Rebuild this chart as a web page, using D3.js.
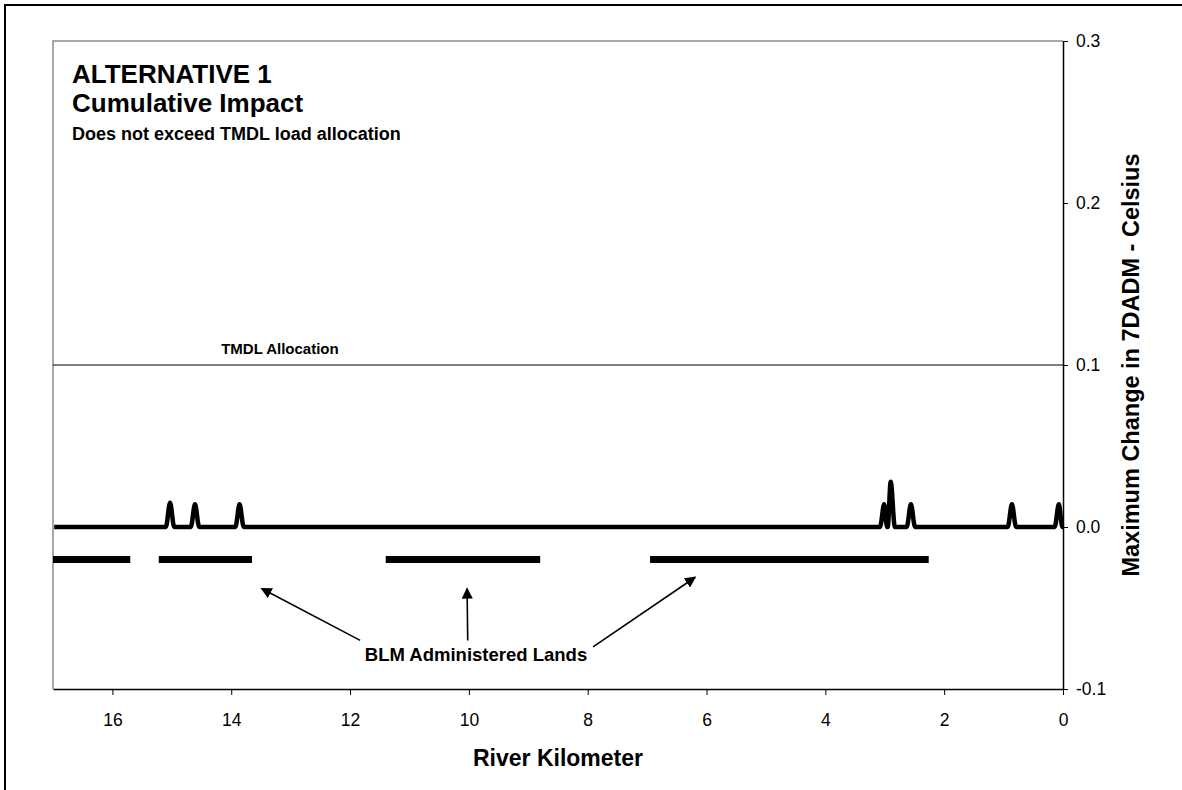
<!DOCTYPE html>
<html lang="en">
<head>
    <meta charset="UTF-8">
    <script src="https://cdnjs.cloudflare.com/ajax/libs/d3/7.8.5/d3.min.js"></script>
    <style>
        body { margin: 0; background: #fff; }
        svg text { font-family: "Liberation Sans", Arial, sans-serif; }
        .tick > line { stroke: #000; }
        .tick > text { fill: #000; font-size: 17.5px; font-family: "Liberation Sans", Arial, sans-serif; }
        path.domain { stroke: #000; }
    </style>
</head>
<body>
    <svg id="chart" width="1182" height="790"></svg>
    <script>
        // cumulative change profile (river km, deg C)
        const riverKm = [16.98, 15.10, 15.03, 14.96, 14.68, 14.61, 14.54, 13.93, 13.86, 13.79,
                         3.08, 3.01, 2.96, 2.95, 2.90, 2.83, 2.63, 2.56, 2.49,
                         0.93, 0.86, 0.79, 0.14, 0.07, 0.01, 0];
        const maxChange = [0, 0, 0.015, 0, 0, 0.014, 0, 0, 0.014, 0,
                           0, 0.014, 0, 0, 0.028, 0, 0, 0.014, 0,
                           0, 0.014, 0, 0, 0.014, 0, 0];

        // BLM administered reaches
        const blmStart = [17.0, 15.22, 11.40, 6.95];
        const blmEnd = [15.70, 13.65, 8.80, 2.26];
        const blmLevel = -0.02;

        const tmdlAllocation = 0.1;

        const xTicks = [16, 14, 12, 10, 8, 6, 4, 2, 0];
        const yTicks = [-0.1, 0, 0.1, 0.2, 0.3];

        // arrows: [tailKm, tailVal, headKm, headVal]
        const arrows = [
            [11.83, -0.070, 13.49, -0.038],
            [10.02, -0.070, 10.03, -0.038],
            [7.91, -0.074, 6.19, -0.031]
        ];

        const svg = d3.select('#chart');
        const plotL = 53, plotR = 1063, plotT = 41, plotB = 689;

        const xScale = d3.scaleLinear().domain([17, 0]).range([plotL, plotR]);
        const yScale = d3.scaleLinear().domain([-0.1, 0.3]).range([plotB, plotT]);

        // outer frame
        svg.append('rect')
            .attr('x', 5).attr('y', 5)
            .attr('width', 1200).attr('height', 800)
            .attr('fill', 'none')
            .attr('stroke', '#000')
            .attr('stroke-width', 2);

        // plot area border (left + top, grey)
        svg.append('path')
            .attr('d', `M${plotL},${plotB}V${plotT}H${plotR}`)
            .attr('fill', 'none')
            .attr('stroke', '#8c8c8c')
            .attr('stroke-width', 1.5);

        const xAxis = d3.axisBottom(xScale)
            .tickValues(xTicks)
            .tickSizeInner(6).tickSizeOuter(0)
            .tickPadding(19)
            .tickFormat(d3.format('d'));
        svg.append('g')
            .attr('transform', `translate(0,${plotB})`)
            .call(xAxis)
            .call(g => g.select('.domain').attr('stroke-width', 1.5));

        const fmt = d3.format('.1f');
        const yAxis = d3.axisRight(yScale)
            .tickValues(yTicks)
            .tickSizeInner(5).tickSizeOuter(0)
            .tickPadding(8)
            .tickFormat(d => fmt(d).replace('\u2212', '-'));
        svg.append('g')
            .attr('transform', `translate(${plotR},0)`)
            .call(yAxis)
            .call(g => g.select('.domain').attr('stroke-width', 1.5));

        // TMDL allocation line
        svg.append('line')
            .attr('x1', plotL).attr('x2', plotR)
            .attr('y1', yScale(tmdlAllocation)).attr('y2', yScale(tmdlAllocation))
            .attr('stroke', '#000')
            .attr('stroke-width', 1.2);

        svg.append('text')
            .attr('x', xScale(13.18))
            .attr('y', yScale(0.107))
            .attr('text-anchor', 'middle')
            .style('font-size', '15px')
            .style('font-weight', 'bold')
            .text('TMDL Allocation');

        // BLM bars
        svg.selectAll('line.blm')
            .data(blmStart)
            .enter()
            .append('line')
            .attr('class', 'blm')
            .attr('x1', d => xScale(d))
            .attr('x2', (d, i) => xScale(blmEnd[i]))
            .attr('y1', yScale(blmLevel))
            .attr('y2', yScale(blmLevel))
            .attr('stroke', '#000')
            .attr('stroke-width', 7);

        // change profile
        const profile = riverKm.map((k, i) => [k, maxChange[i]]);
        const changeLine = d3.line()
            .x(d => xScale(d[0]))
            .y(d => yScale(d[1]))
            .curve(d3.curveMonotoneX);
        svg.append('path')
            .attr('d', changeLine(profile.slice().reverse()))
            .attr('fill', 'none')
            .attr('stroke', '#000')
            .attr('stroke-width', 4.5)
            .attr('stroke-linejoin', 'round');

        // arrows
        svg.append('defs').append('marker')
            .attr('id', 'head')
            .attr('viewBox', '0 0 10 10')
            .attr('refX', 9).attr('refY', 5)
            .attr('markerWidth', 7).attr('markerHeight', 7)
            .attr('markerUnits', 'strokeWidth')
            .attr('orient', 'auto')
            .append('path')
            .attr('d', 'M0,0L10,5L0,10Z')
            .attr('fill', '#000');

        svg.selectAll('line.arrow')
            .data(arrows)
            .enter()
            .append('line')
            .attr('class', 'arrow')
            .attr('x1', d => xScale(d[0])).attr('y1', d => yScale(d[1]))
            .attr('x2', d => xScale(d[2])).attr('y2', d => yScale(d[3]))
            .attr('stroke', '#000')
            .attr('stroke-width', 1.6)
            .attr('marker-end', 'url(#head)');

        svg.append('text')
            .attr('x', xScale(9.88))
            .attr('y', yScale(-0.0825))
            .attr('text-anchor', 'middle')
            .style('font-size', '18.5px')
            .style('font-weight', 'bold')
            .text('BLM Administered Lands');

        // titles
        svg.append('text')
            .attr('x', 72).attr('y', 83)
            .style('font-size', '26px').style('font-weight', 'bold')
            .text('ALTERNATIVE 1');
        svg.append('text')
            .attr('x', 72).attr('y', 112)
            .style('font-size', '26px').style('font-weight', 'bold')
            .text('Cumulative Impact');
        svg.append('text')
            .attr('x', 72).attr('y', 140)
            .style('font-size', '18px').style('font-weight', 'bold')
            .text('Does not exceed TMDL load allocation');

        // axis titles
        svg.append('text')
            .attr('x', (plotL + plotR) / 2).attr('y', 766)
            .attr('text-anchor', 'middle')
            .style('font-size', '23px').style('font-weight', 'bold')
            .text('River Kilometer');
        svg.append('text')
            .attr('transform', `translate(1139,${(plotT + plotB) / 2}) rotate(-90)`)
            .attr('text-anchor', 'middle')
            .style('font-size', '23.5px').style('font-weight', 'bold')
            .text('Maximum Change in 7DADM - Celsius');
    </script>
</body>
</html>
